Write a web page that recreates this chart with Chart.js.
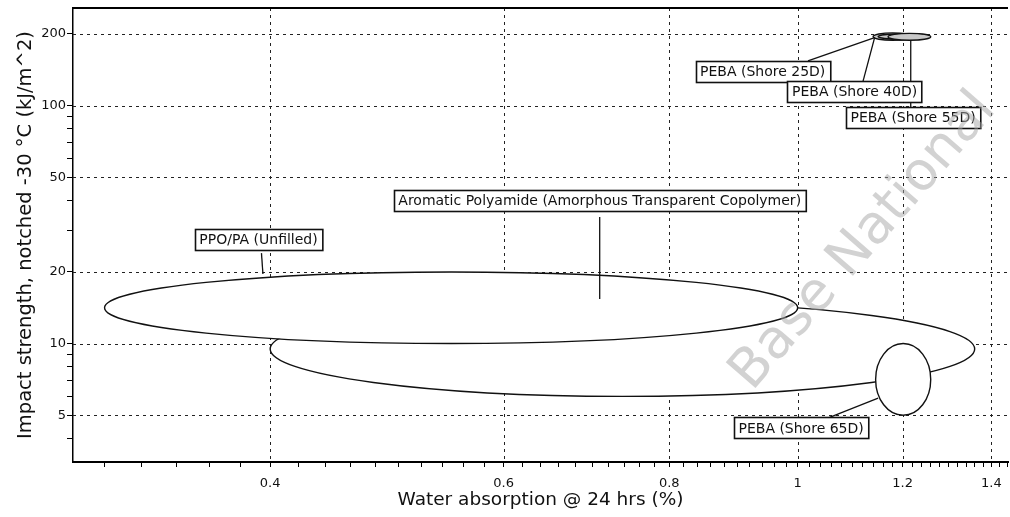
<!DOCTYPE html>
<html>
<head>
<meta charset="utf-8">
<script src="https://cdn.jsdelivr.net/npm/chart.js@4.4.1/dist/chart.umd.min.js"></script>
<style>
  html, body { margin: 0; padding: 0; background: #fff; }
  #wrap { width: 1010px; height: 517px; }
</style>
</head>
<body>
<div id="wrap"><canvas id="chart" width="1010" height="517"></canvas></div>
<script>
// materials, in drawing order (later ones sit on top)
const materials = [
  'Aromatic Polyamide (Amorphous Transparent Copolymer)',
  'PPO/PA (Unfilled)',
  'PEBA (Shore 65D)',
  'PEBA (Shore 25D)',
  'PEBA (Shore 40D)',
  'PEBA (Shore 55D)'
];
// water absorption @ 24 hrs (%)
const waterMin = [0.40, 0.30, 1.145, 1.14, 1.15, 1.17];
const waterMax = [1.36, 1.00, 1.26, 1.22, 1.24, 1.26];
// impact strength, notched -30 C (kJ/m^2)
const impactMin = [6, 10, 5, 188, 190, 188];
const impactMax = [15, 20, 10, 202, 200, 201];

// axis ticks
const xTickLabels = [0.4, 0.6, 0.8, 1, 1.2, 1.4];
const yTickLabels = [5, 10, 20, 50, 100, 200];
const yMinorTicks = [4, 6, 7, 8, 9, 30, 40, 60, 70, 80, 90];

// label boxes: centre + leader line (start -> end), in data units
const callouts = [
  { text: materials[0], cx: 0.709, cy: 39.9, from: [0.709, 34], to: [0.709, 15.4] },
  { text: materials[1], cx: 0.392, cy: 27.3, from: [0.394, 24], to: [0.395, 19.6] },
  { text: materials[2], cx: 1.006, cy: 4.42, from: [1.057, 4.9], to: [1.15, 5.9] },
  { text: materials[3], cx: 0.941, cy: 139.5, from: [1.018, 154], to: [1.143, 193] },
  { text: materials[4], cx: 1.104, cy: 115, from: [1.12, 126], to: [1.143, 193] },
  { text: materials[5], cx: 1.222, cy: 89.5, from: [1.217, 98], to: [1.217, 188] }
];

const fills = ['#ffffff', '#ffffff', '#ffffff', '#c8c8c8', '#c8c8c8', '#c8c8c8'];

// minor ticks on x every 0.02
const xTicks = [];
for (let v = 30; v <= 144; v += 2) xTicks.push(v / 100);

const near = (a, b) => Math.abs(a - b) < 1e-6;

const bubbles = {
  id: 'bubbles',
  beforeDatasetsDraw(chart) {
    const { ctx, chartArea: ca, scales: { x, y } } = chart;
    ctx.save();
    ctx.beginPath();
    ctx.rect(ca.left, ca.top, ca.right - ca.left, ca.bottom - ca.top);
    ctx.clip();

    // dashed grid
    ctx.setLineDash([3, 4]);
    ctx.strokeStyle = '#222';
    ctx.lineWidth = 1;
    xTickLabels.forEach(v => {
      const px = Math.round(x.getPixelForValue(v)) + 0.5;
      ctx.beginPath(); ctx.moveTo(px, ca.top); ctx.lineTo(px, ca.bottom); ctx.stroke();
    });
    yTickLabels.forEach(v => {
      const py = Math.round(y.getPixelForValue(v)) + 0.5;
      ctx.beginPath(); ctx.moveTo(ca.left, py); ctx.lineTo(ca.right, py); ctx.stroke();
    });
    ctx.setLineDash([]);

    // property ellipses
    materials.forEach((m, i) => {
      const x0 = x.getPixelForValue(waterMin[i]);
      const x1 = x.getPixelForValue(waterMax[i]);
      const y0 = y.getPixelForValue(impactMin[i]);
      const y1 = y.getPixelForValue(impactMax[i]);
      ctx.beginPath();
      ctx.ellipse((x0 + x1) / 2, (y0 + y1) / 2, Math.abs(x1 - x0) / 2, Math.abs(y1 - y0) / 2, 0, 0, Math.PI * 2);
      ctx.fillStyle = fills[i];
      ctx.fill();
      ctx.lineWidth = 1.4;
      ctx.strokeStyle = '#111';
      ctx.stroke();
    });

    // leaders
    ctx.lineWidth = 1.3;
    ctx.strokeStyle = '#111';
    callouts.forEach(c => {
      ctx.beginPath();
      ctx.moveTo(x.getPixelForValue(c.from[0]), y.getPixelForValue(c.from[1]));
      ctx.lineTo(x.getPixelForValue(c.to[0]), y.getPixelForValue(c.to[1]));
      ctx.stroke();
    });

    // label boxes
    ctx.font = '14px "DejaVu Sans"';
    ctx.textAlign = 'center';
    ctx.textBaseline = 'middle';
    callouts.forEach(c => {
      const px = x.getPixelForValue(c.cx);
      const py = y.getPixelForValue(c.cy);
      const w = ctx.measureText(c.text).width + 9;
      const h = 21;
      const bx = Math.round(px - w / 2) + 0.5;
      const by = Math.round(py - h / 2) + 0.5;
      ctx.fillStyle = '#fff';
      ctx.fillRect(bx, by, w, h);
      ctx.lineWidth = 1.6;
      ctx.strokeStyle = '#111';
      ctx.strokeRect(bx, by, w, h);
      ctx.fillStyle = '#111';
      ctx.fillText(c.text, px, py + 1);
    });
    ctx.restore();
  },
  afterDraw(chart) {
    const { ctx, chartArea: ca } = chart;
    ctx.save();
    // top frame line
    ctx.strokeStyle = '#000';
    ctx.lineWidth = 2;
    ctx.beginPath(); ctx.moveTo(ca.left, ca.top); ctx.lineTo(ca.right, ca.top); ctx.stroke();
    // watermark
    ctx.translate(752, 392);
    ctx.rotate(-49 * Math.PI / 180);
    ctx.font = '54px "DejaVu Sans"';
    ctx.fillStyle = 'rgba(165,165,165,0.5)';
    ctx.textAlign = 'left';
    ctx.textBaseline = 'alphabetic';
    ctx.fillText('Base National', 0, 0);
    ctx.restore();
  }
};

new Chart(document.getElementById('chart'), {
  type: 'scatter',
  data: {
    datasets: materials.map((m, i) => ({
      label: m,
      data: [{ x: waterMin[i], y: impactMin[i] }, { x: waterMax[i], y: impactMax[i] }],
      pointRadius: 0,
      showLine: false
    }))
  },
  options: {
    responsive: false,
    animation: false,
    devicePixelRatio: 1,
    layout: { padding: { top: 8, right: 2, left: 0, bottom: 0 } },
    plugins: { legend: { display: false }, tooltip: { enabled: false } },
    scales: {
      x: {
        type: 'logarithmic',
        min: 0.284,
        max: 1.441,
        afterBuildTicks: s => { s.ticks = xTicks.map(v => ({ value: v })); },
        afterFit: s => { s.height = 55; s.paddingLeft = 0; s.paddingRight = 0; },
        ticks: {
          autoSkip: false,
          maxRotation: 0,
          padding: 9,
          color: '#111',
          font: { family: 'DejaVu Sans', size: 13 },
          callback: v => { const t = xTickLabels.find(l => near(l, v)); return t === undefined ? '' : String(t); }
        },
        grid: { drawOnChartArea: false, tickLength: 5, tickColor: '#000', lineWidth: 1 },
        border: { color: '#000', width: 2 },
        title: {
          display: true,
          text: 'Water absorption @ 24 hrs (%)',
          color: '#111',
          font: { family: 'DejaVu Sans', size: 18.5 },
          padding: { top: 0, bottom: 6 }
        }
      },
      y: {
        type: 'logarithmic',
        min: 3.18,
        max: 257,
        afterBuildTicks: s => { s.ticks = yTickLabels.concat(yMinorTicks).sort((a, b) => a - b).map(v => ({ value: v })); },
        afterFit: s => { s.width = 73; s.paddingTop = 0; s.paddingBottom = 0; },
        ticks: {
          autoSkip: false,
          padding: 1,
          color: '#111',
          font: { family: 'DejaVu Sans', size: 13 },
          callback: v => { const t = yTickLabels.find(l => near(l, v)); return t === undefined ? '' : String(t); }
        },
        grid: { drawOnChartArea: false, tickLength: 6, tickColor: '#000', lineWidth: 1 },
        border: { color: '#000', width: 1.5 },
        title: {
          display: true,
          text: 'Impact strength, notched -30 °C (kJ/m^2)',
          color: '#111',
          font: { family: 'DejaVu Sans', size: 19.5 },
          padding: { top: 14, bottom: 0 }
        }
      }
    }
  },
  plugins: [bubbles]
});
</script>
</body>
</html>
